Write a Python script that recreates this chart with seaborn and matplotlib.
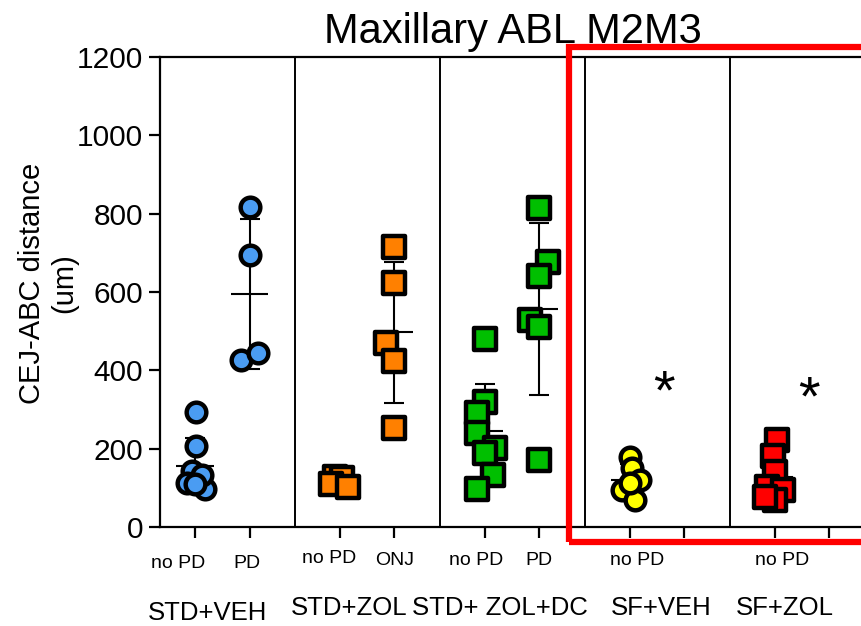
import numpy as np
import pandas as pd
import matplotlib
matplotlib.use("Agg")
import matplotlib.pyplot as plt
import matplotlib.patches as mpatches
import seaborn as sns

# ---------------- data ----------------
group_names = ["STD+VEH", "STD+ZOL", "STD+ ZOL+DC", "SF+VEH", "SF+ZOL"]
sub_labels = [["no PD", "PD"], ["no PD", "ONJ"], ["no PD", "PD"], ["no PD"], ["no PD"]]

std_veh_nopd = [294, 207, 143, 112, 97, 133, 110]
std_veh_nopd_jit = [0.02, 0.02, -0.05, -0.15, 0.18, 0.13, 0.0]
std_veh_pd = [817, 694, 426, 444]
std_veh_pd_jit = [0.0, 0.0, -0.15, 0.15]

std_zol_nopd = [128, 124, 110, 102]
std_zol_nopd_jit = [-0.09, 0.04, -0.16, 0.15]
std_zol_onj = [715, 623, 470, 424, 253]
std_zol_onj_jit = [0.0, 0.0, -0.15, 0.0, 0.0]

dc_nopd = [480, 319, 291, 240, 202, 189, 133, 97]
dc_nopd_jit = [0.0, 0.0, -0.15, -0.15, 0.18, 0.0, 0.14, -0.15]
dc_pd = [814, 677, 641, 528, 511, 171]
dc_pd_jit = [0.0, 0.15, 0.0, -0.17, 0.0, 0.0]

sf_veh_nopd = [179, 150, 120, 94, 69, 112]
sf_veh_nopd_jit = [0.0, 0.04, 0.18, -0.15, 0.09, 0.0]
sf_zol_nopd = [222, 181, 140, 102, 94, 69, 77]
sf_zol_nopd_jit = [0.04, -0.03, 0.0, -0.14, 0.15, 0.01, -0.18]

# series: (group index, slot within group, values, jitter, marker, colour)
series = [
    (0, 0, std_veh_nopd, std_veh_nopd_jit, "o", "#4A9CF2"),
    (0, 1, std_veh_pd, std_veh_pd_jit, "o", "#4A9CF2"),
    (1, 0, std_zol_nopd, std_zol_nopd_jit, "s", "#FF8000"),
    (1, 1, std_zol_onj, std_zol_onj_jit, "s", "#FF8000"),
    (2, 0, dc_nopd, dc_nopd_jit, "s", "#00BF00"),
    (2, 1, dc_pd, dc_pd_jit, "s", "#00BF00"),
    (3, 0, sf_veh_nopd, sf_veh_nopd_jit, "o", "#FFFF00"),
    (4, 0, sf_zol_nopd, sf_zol_nopd_jit, "s", "#FF0000"),
]
star_groups = [3, 4]
star_y = [338, 322]
yticks = [0, 200, 400, 600, 800, 1000, 1200]

# ---------------- layout ----------------
W, H = 861, 626
GSTEP = 2.66          # distance between first ticks of adjacent groups (data units)
PX = 54.5             # pixels per data unit in x
X0 = 195              # pixel x of first tick

sns.set_style("ticks")
plt.rcParams["font.family"] = ["Liberation Sans", "DejaVu Sans"]
for k in ["text.color", "axes.labelcolor", "xtick.color", "ytick.color", "axes.edgecolor"]:
    plt.rcParams[k] = "black"

fig = plt.figure(figsize=(W / 100, H / 100), dpi=100)
ax_left, ax_right, ax_top, ax_bot = 160, 885, 57, 527
ax = fig.add_axes([ax_left / W, 1 - ax_bot / H, (ax_right - ax_left) / W, (ax_bot - ax_top) / H])

ax.set_xlim((ax_left - X0) / PX, (ax_right - X0) / PX)
ax.set_ylim(0, 1200)

# group separators
for g in range(len(group_names) - 1):
    xs = (g * GSTEP + 1 + (g + 1) * GSTEP) / 2
    ax.axvline(xs, color="black", lw=1.4, zorder=1)

# points + mean/SD
tick_pos = []
for g, slot, vals, jit, mk, col in series:
    xc = g * GSTEP + slot
    tick_pos.append(xc)
    vals = np.asarray(vals, float)
    m, sd = vals.mean(), vals.std(ddof=1)
    ax.errorbar([xc], [m], yerr=[sd], fmt="none", ecolor="black", elinewidth=1.5,
                capsize=7, capthick=1.5, zorder=2)
    ax.hlines(m, xc - 0.34, xc + 0.34, color="black", lw=1.5, zorder=2)
    df = pd.DataFrame({"x": xc + np.asarray(jit), "y": vals})
    size = 200 if mk == "o" else 240
    sns.scatterplot(data=df, x="x", y="y", ax=ax, marker=mk, color=col, s=size,
                    edgecolor="black", linewidth=3.2, zorder=3, legend=False)
# also ticks for the (cropped) missing PD slots in SF groups
extra_ticks = [3 * GSTEP + 1, 4 * GSTEP + 1]
ax.set_xticks(sorted(tick_pos + extra_ticks))
ax.set_xticklabels([])
ax.set_xlabel("")
ax.set_ylabel("")

for g, yv in zip(star_groups, star_y):
    ax.text(g * GSTEP + 0.63, yv, "*", fontsize=40, ha="center", va="center", color="black")

ax.set_yticks(yticks)
ax.set_yticklabels([str(v) for v in yticks], fontsize=21.5)
ax.tick_params(axis="both", direction="out", length=8, width=1.6, color="black", pad=4)
for sp in ax.spines.values():
    sp.set_visible(True)
    sp.set_linewidth(1.6)
    sp.set_color("black")

# sub-labels and group labels (pixel positions)
def ftext(x, y, s, **kw):
    fig.text(x / W, 1 - y / H, s, color="black", **kw)

sub_pos = [(178, 568), (247, 568), (329, 563), (395, 565), (476, 565), (539, 565), (637, 565), (782, 565)]
flat_subs = [s for grp in sub_labels for s in grp]
for (x, y), s in zip(sub_pos, flat_subs):
    ftext(x, y, s, fontsize=14, ha="center", va="baseline")

grp_pos = [(208, 620), (349, 615), (500, 615), (661, 615), (785, 615)]
for (x, y), s in zip(grp_pos, group_names):
    ftext(x, y, s, fontsize=18.5, ha="center", va="baseline")

ftext(513, 43, "Maxillary ABL M2M3", fontsize=30, ha="center", va="baseline")
ftext(48, 283, "CEJ-ABC distance\n(um)", fontsize=21, ha="center", va="center",
      rotation=90, multialignment="center", linespacing=1.2)

# red highlight box
rect = mpatches.Rectangle((569 / W, 1 - 542 / H), 400 / W, (542 - 47) / H,
                          transform=fig.transFigure, fill=False, edgecolor="#FF0000",
                          lw=4.5, zorder=10)
fig.patches.append(rect)

fig.savefig("out.png", dpi=100)
